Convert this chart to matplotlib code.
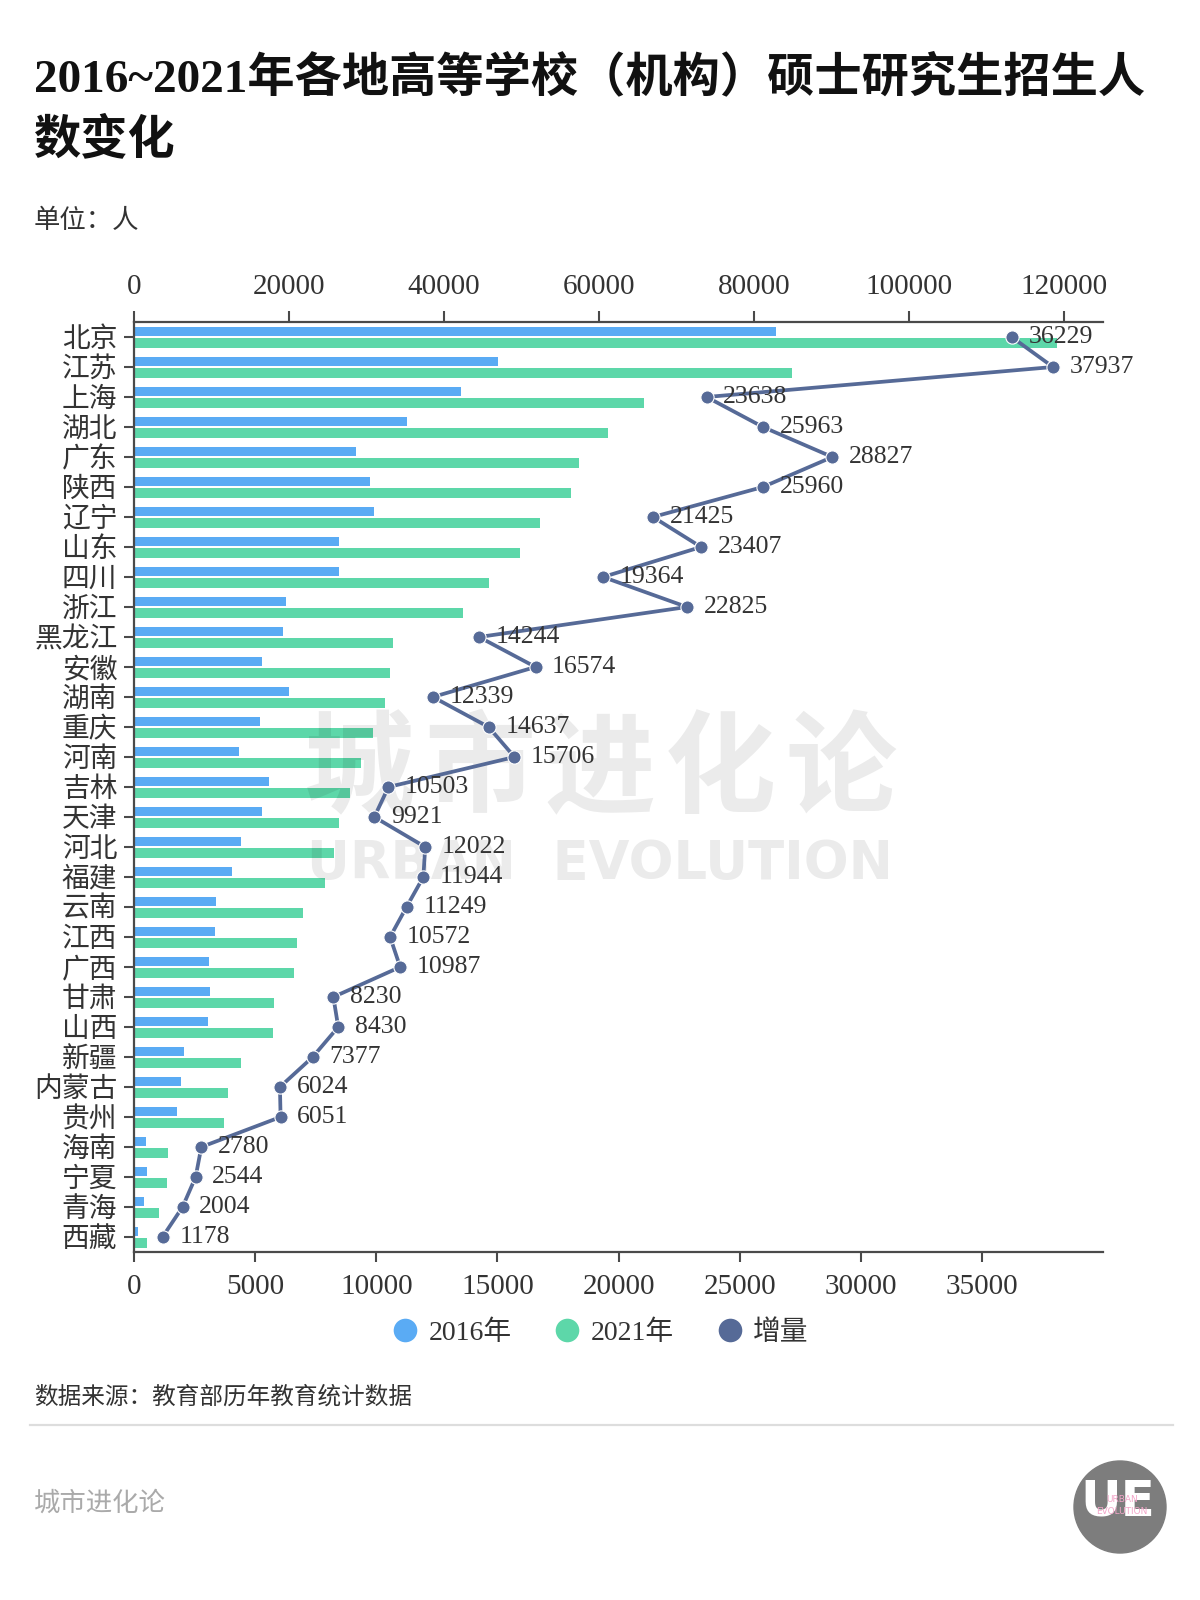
import matplotlib
matplotlib.use('Agg')
import matplotlib.pyplot as plt
from matplotlib.lines import Line2D
from matplotlib.patches import Ellipse
import numpy as np

# serif digits, CJK falls back to Noto Sans CJK
FONT = ['Liberation Serif', 'Noto Sans CJK SC']
plt.rcParams['font.family'] = FONT
plt.rcParams['axes.unicode_minus'] = False

provinces = ['北京', '江苏', '上海', '湖北', '广东', '陕西', '辽宁', '山东', '四川', '浙江',
             '黑龙江', '安徽', '湖南', '重庆', '河南', '吉林', '天津', '河北', '福建', '云南',
             '江西', '广西', '甘肃', '山西', '新疆', '内蒙古', '贵州', '海南', '宁夏', '青海', '西藏']
v2016 = [82800, 47000, 42200, 35200, 28600, 30400, 30900, 26400, 26400, 19600,
         19200, 16500, 20000, 16200, 13600, 17400, 16500, 13800, 12700, 10600,
         10400, 9700, 9800, 9500, 6400, 6100, 5500, 1550, 1700, 1250, 550]
v2021 = [119029, 84937, 65838, 61163, 57427, 56360, 52325, 49807, 45764, 42425,
         33444, 33074, 32339, 30837, 29306, 27903, 26421, 25822, 24644, 21849,
         20972, 20687, 18030, 17930, 13777, 12124, 11551, 4330, 4244, 3254, 1728]
increase = [36229, 37937, 23638, 25963, 28827, 25960, 21425, 23407, 19364, 22825,
            14244, 16574, 12339, 14637, 15706, 10503, 9921, 12022, 11944, 11249,
            10572, 10987, 8230, 8430, 7377, 6024, 6051, 2780, 2544, 2004, 1178]

top_ticks = [0, 20000, 40000, 60000, 80000, 100000, 120000]
bottom_ticks = [0, 5000, 10000, 15000, 20000, 25000, 30000, 35000]
legend_labels = ['2016年', '2021年', '增量']

c2016 = '#5aabf4'
c2021 = '#5dd7a9'
cinc = '#566a97'
txt = '#333333'
spine_c = '#4a4a4a'

W, H = 1200, 1600
def fx(px):
    return px / W
def fy(py):
    return 1 - py / H

fig = plt.figure(figsize=(12, 16), dpi=100)
fig.patch.set_facecolor('white')

ax = fig.add_axes([fx(134), fy(1252), fx(1103) - fx(134), fy(322) - fy(1252)])
y = np.arange(len(provinces))
ax.barh(y - 0.19, v2016, height=0.32, color=c2016, zorder=2)
ax.barh(y + 0.19, v2021, height=0.32, color=c2021, zorder=2)
ax.set_ylim(len(provinces) - 0.5, -0.5)
ax.set_xlim(0, 125000)
ax.set_yticks(y)
ax.set_yticklabels(provinces)
ax.tick_params(axis='y', length=7, width=1.5, color=spine_c, pad=5,
               labelsize=20, labelcolor=txt)
for s in ['right', 'bottom']:
    ax.spines[s].set_visible(False)
for s in ['top', 'left']:
    ax.spines[s].set_color(spine_c)
    ax.spines[s].set_linewidth(1.6)

# watermark, between bars and line
for i, ch in enumerate('城市进化论'):
    ax.text(fx(359 + i * 120.5), fy(772), ch, transform=fig.transFigure,
            ha='center', va='center', fontsize=80, fontweight='heavy',
            family=['Noto Sans CJK SC'], color='black', alpha=0.08, zorder=3)
ax.text(fx(600), fy(864), 'URBAN  EVOLUTION', transform=fig.transFigure,
        ha='center', va='center', fontsize=38, fontweight='bold',
        family=['DejaVu Sans'], color='black', alpha=0.08, zorder=3)

ax2 = ax.twiny()
ax2.plot(increase, y, color=cinc, lw=2.7, marker='o', ms=9.5,
         mec='white', mew=0.8, zorder=5, clip_on=False)
for xv, yv in zip(increase, y):
    ax2.annotate(str(xv), (xv, yv), xytext=(12, 0), textcoords='offset points',
                 ha='left', va='center', fontsize=18.5, color=txt, zorder=6,
                 annotation_clip=False)
ax2.set_xlim(0, 40000)
ax2.set_ylim(len(provinces) - 0.5, -0.5)

# twiny resets tick sides, so set them afterwards
ax.xaxis.tick_top()
ax.set_xticks(top_ticks)
ax.set_xticklabels([str(t) for t in top_ticks])
ax.tick_params(axis='x', length=8, width=1.5, color=spine_c, pad=8,
               labelsize=21, labelcolor=txt)
ax2.xaxis.tick_bottom()
ax2.set_xticks(bottom_ticks)
ax2.set_xticklabels([str(t) for t in bottom_ticks])
ax2.tick_params(axis='x', length=7, width=1.5, color=spine_c, pad=9,
                labelsize=21, labelcolor=txt)
for s in ['right', 'top', 'left']:
    ax2.spines[s].set_visible(False)
ax2.spines['bottom'].set_visible(True)
ax2.spines['bottom'].set_color(spine_c)
ax2.spines['bottom'].set_linewidth(1.6)

# legend
handles = [Line2D([], [], ls='', marker='o', ms=17, color=c, mew=0)
           for c in [c2016, c2021, cinc]]
fig.legend(handles, legend_labels, loc='center', bbox_to_anchor=(0.5, fy(1333)),
           ncol=3, frameon=False, fontsize=20, handlelength=1.0,
           handletextpad=0.35, columnspacing=1.5, labelcolor=txt)

# titles and notes
fig.text(fx(34), fy(78), '2016~2021年各地高等学校（机构）硕士研究生招生人',
         fontsize=34, fontweight='bold', color='#111111', va='center', ha='left')
fig.text(fx(34), fy(140), '数变化', fontsize=34, fontweight='bold',
         color='#111111', va='center', ha='left')
fig.text(fx(34), fy(221), '单位：人', fontsize=19, color=txt, va='center', ha='left')
fig.text(fx(34), fy(1397), '数据来源：教育部历年教育统计数据', fontsize=17,
         color=txt, va='center', ha='left')
fig.add_artist(Line2D([fx(30), fx(1173)], [fy(1425), fy(1425)],
                      transform=fig.transFigure, color='#dddddd', lw=1.6))
fig.text(fx(34), fy(1503), '城市进化论', fontsize=19, color='#aaaaaa',
         va='center', ha='left')

# logo
fig.add_artist(Ellipse((fx(1120), fy(1507)), 92 / W, 92 / H,
                       transform=fig.transFigure, color='#7d7d7d'))
fig.text(fx(1118), fy(1502), 'UE', fontsize=36, fontweight='bold', color='white',
         family=['DejaVu Sans'], ha='center', va='center')
fig.text(fx(1122), fy(1500), 'URBAN', fontsize=6.5, color='#f3a6c9',
         family=['DejaVu Sans'], ha='center', va='center')
fig.text(fx(1122), fy(1511), 'EVOLUTION', fontsize=6.5, color='#f3a6c9',
         family=['DejaVu Sans'], ha='center', va='center')

fig.savefig('out.png', dpi=100, facecolor='white')
